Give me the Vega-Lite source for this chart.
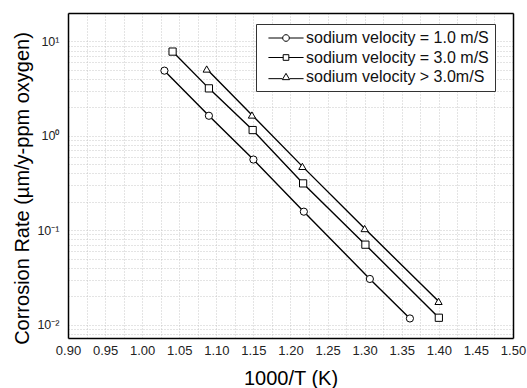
{
  "$schema": "https://vega.github.io/schema/vega-lite/v6.json",
  "width": 445,
  "height": 325,
  "autosize": "none",
  "padding": {"left": 68, "top": 13, "right": 14, "bottom": 50},
  "background": "white",
  "config": {
    "font": "Liberation Sans",
    "view": {"stroke": null},
    "axis": {
      "domainColor": "black",
      "domainWidth": 1.5,
      "tickColor": "black",
      "tickWidth": 1.2,
      "tickSize": 0,
      "gridColor": "#bbbbbb",
      "gridDash": [1, 2],
      "gridWidth": 0.8,
      "labelFont": "Liberation Sans",
      "labelColor": "#222222",
      "labelFontSize": 13,
      "titleFont": "Liberation Sans",
      "titleFontWeight": "normal",
      "titleFontSize": 20,
      "titleColor": "black"
    },
    "legend": {
      "labelFont": "Liberation Sans",
      "labelFontSize": 16,
      "labelColor": "#111111",
      "labelLimit": 400
    }
  },
  "data": {
    "values": [
      {"series": "sodium velocity = 1.0 m/S", "x": 1.03, "y": 4.9},
      {"series": "sodium velocity = 1.0 m/S", "x": 1.09, "y": 1.63},
      {"series": "sodium velocity = 1.0 m/S", "x": 1.15, "y": 0.56},
      {"series": "sodium velocity = 1.0 m/S", "x": 1.218, "y": 0.157},
      {"series": "sodium velocity = 1.0 m/S", "x": 1.307, "y": 0.0304},
      {"series": "sodium velocity = 1.0 m/S", "x": 1.361, "y": 0.0116},
      {"series": "sodium velocity = 3.0 m/S", "x": 1.041, "y": 7.8},
      {"series": "sodium velocity = 3.0 m/S", "x": 1.09, "y": 3.18},
      {"series": "sodium velocity = 3.0 m/S", "x": 1.149, "y": 1.15},
      {"series": "sodium velocity = 3.0 m/S", "x": 1.217, "y": 0.313},
      {"series": "sodium velocity = 3.0 m/S", "x": 1.301, "y": 0.0702},
      {"series": "sodium velocity = 3.0 m/S", "x": 1.4, "y": 0.0118},
      {"series": "sodium velocity > 3.0m/S", "x": 1.087, "y": 5.1},
      {"series": "sodium velocity > 3.0m/S", "x": 1.148, "y": 1.66},
      {"series": "sodium velocity > 3.0m/S", "x": 1.216, "y": 0.474},
      {"series": "sodium velocity > 3.0m/S", "x": 1.3, "y": 0.104},
      {"series": "sodium velocity > 3.0m/S", "x": 1.3996, "y": 0.0176}
    ]
  },
  "layer": [
    {
      "mark": {"type": "line", "color": "black", "strokeWidth": 1.4},
      "encoding": {
        "x": {
          "field": "x", "type": "quantitative",
          "scale": {"domain": [0.9, 1.5], "nice": false, "zero": false},
          "axis": {
            "orient": "bottom",
            "title": "1000/T (K)",
            "titlePadding": 11,
            "values": [0.9, 0.925, 0.95, 0.975, 1.0, 1.025, 1.05, 1.075, 1.1, 1.125, 1.15, 1.175, 1.2, 1.225, 1.25, 1.275, 1.3, 1.325, 1.35, 1.375, 1.4, 1.425, 1.45, 1.475, 1.5],
            "labelExpr": "abs(datum.value*20 - round(datum.value*20)) < 0.001 ? format(datum.value, '.2f') : ''",
            "labelPadding": 6,
            "labelFlush": false,
            "labelOverlap": false,
            "grid": true,
            "encode": {"ticks": {"update": {"y2": {"signal": "abs(datum.value*20 - round(datum.value*20)) < 0.001 ? -6 : -3"}}}}
          }
        },
        "y": {
          "field": "y", "type": "quantitative",
          "scale": {"type": "log", "domain": [0.0072, 20], "nice": false},
          "axis": {
            "orient": "left",
            "title": "Corrosion Rate (µm/y-ppm oxygen)",
            "titleX": -36,
            "titleY": 175,
            "values": [0.008, 0.009, 0.01, 0.02, 0.03, 0.04, 0.05, 0.06, 0.07, 0.08, 0.09, 0.1, 0.2, 0.3, 0.4, 0.5, 0.6, 0.7, 0.8, 0.9, 1, 2, 3, 4, 5, 6, 7, 8, 9, 10, 20],
            "labelExpr": "datum.value == 10 ? '10¹' : datum.value == 1 ? '10⁰' : datum.value == 0.1 ? '10⁻¹' : datum.value == 0.01 ? '10⁻²' : ''",
            "labelPadding": 9,
            "labelFontSize": 12.5,
            "labelOverlap": false,
            "grid": true,
            "encode": {"ticks": {"update": {"x2": {"signal": "abs(log(datum.value)/LN10 - round(log(datum.value)/LN10)) < 0.000001 ? 7 : 4"}}}}
          }
        },
        "detail": {"field": "series"}
      }
    },
    {
      "mark": {"type": "point", "filled": true, "fill": "white", "stroke": "black", "strokeWidth": 1, "size": 52, "opacity": 1},
      "encoding": {
        "x": {
          "field": "x", "type": "quantitative",
          "axis": {
            "orient": "top", "title": null, "labels": false, "grid": false,
            "values": [0.9, 0.925, 0.95, 0.975, 1.0, 1.025, 1.05, 1.075, 1.1, 1.125, 1.15, 1.175, 1.2, 1.225, 1.25, 1.275, 1.3, 1.325, 1.35, 1.375, 1.4, 1.425, 1.45, 1.475, 1.5],
            "encode": {"ticks": {"update": {"y2": {"signal": "abs(datum.value*20 - round(datum.value*20)) < 0.001 ? 6 : 3"}}}}
          }
        },
        "y": {
          "field": "y", "type": "quantitative",
          "axis": {
            "orient": "right", "title": null, "labels": false, "grid": false,
            "values": [0.008, 0.009, 0.01, 0.02, 0.03, 0.04, 0.05, 0.06, 0.07, 0.08, 0.09, 0.1, 0.2, 0.3, 0.4, 0.5, 0.6, 0.7, 0.8, 0.9, 1, 2, 3, 4, 5, 6, 7, 8, 9, 10, 20],
            "encode": {"ticks": {"update": {"x2": {"signal": "abs(log(datum.value)/LN10 - round(log(datum.value)/LN10)) < 0.000001 ? -7 : -4"}}}}
          }
        },
        "shape": {
          "field": "series", "type": "nominal",
          "scale": {
            "domain": ["sodium velocity = 1.0 m/S", "sodium velocity = 3.0 m/S", "sodium velocity > 3.0m/S"],
            "range": ["circle", "square", "triangle-up"]
          },
          "legend": null
        }
      }
    },
    {
      "transform": [{"filter": "datum.x > 100"}],
      "mark": {"type": "point", "filled": false, "stroke": "black", "strokeWidth": 1, "size": 44, "opacity": 1},
      "encoding": {
        "x": {"field": "x", "type": "quantitative", "axis": null},
        "y": {"field": "y", "type": "quantitative", "axis": null},
        "shape": {
          "field": "series", "type": "nominal",
          "scale": {
            "domain": ["sodium velocity = 1.0 m/S", "sodium velocity = 3.0 m/S", "sodium velocity > 3.0m/S"],
            "range": [
              "M-5.3,0H-1M1,0H5.3M-1,0A1,1,0,1,0,1,0A1,1,0,1,0,-1,0",
              "M-5.3,0H-0.85M0.85,0H5.3M-0.85,-0.85H0.85V0.85H-0.85Z",
              "M-5.3,0.5H-1.1M1.1,0.5H5.3M0,-1.1L1.1,0.8H-1.1Z"
            ]
          },
          "legend": {
            "title": null,
            "orient": "none",
            "legendX": 188,
            "legendY": 11,
            "padding": 6,
            "strokeColor": "#333333",
            "fillColor": "white",
            "symbolSize": 44,
            "symbolStrokeColor": "black",
            "symbolFillColor": "white",
            "symbolStrokeWidth": 1,
            "symbolOpacity": 1,
            "symbolOffset": 16,
            "labelOffset": 12,
            "labelLimit": 400,
            "rowPadding": 3.5
          }
        }
      }
    }
  ],
  "resolve": {"axis": {"x": "independent", "y": "independent"}, "scale": {"shape": "independent"}}
}
